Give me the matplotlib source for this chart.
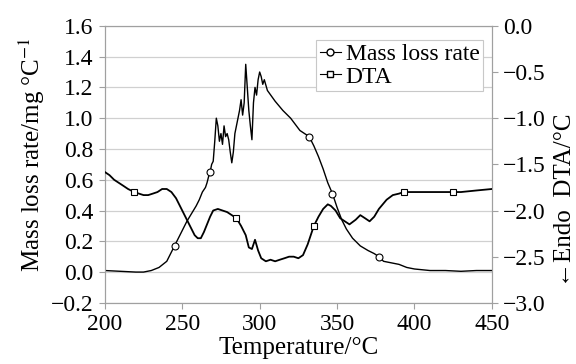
import matplotlib
matplotlib.use("Agg")
import matplotlib.pyplot as plt
import numpy as np
from matplotlib.lines import Line2D

plt.rcParams['font.family'] = ['Liberation Serif', 'DejaVu Serif']
plt.rcParams['mathtext.fontset'] = 'stix'

# mass loss rate (mg/°C) vs temperature
t_mass = [200, 210, 220, 225, 230, 235, 240, 245, 250, 253, 256, 259, 261, 263, 265, 266, 267, 268,
          269, 270, 271, 272, 273, 274, 275, 276, 277, 278, 279, 280, 281, 282, 283, 284, 285, 286,
          287, 288, 289, 290, 291, 292, 293, 294, 295, 296, 297, 298, 299, 300, 301, 302, 303, 305,
          310, 315, 320, 326, 332, 335, 338, 341, 344, 347, 350, 353, 356, 360, 365, 370, 374, 377,
          380, 385, 390, 395, 400, 410, 420, 430, 440, 450]
mass_rate = [0.01, 0.005, 0.0, 0.0, 0.01, 0.03, 0.07, 0.17, 0.27, 0.33, 0.38, 0.43, 0.47, 0.52, 0.55, 0.58, 0.62, 0.65,
             0.70, 0.72, 0.85, 1.00, 0.95, 0.85, 0.90, 0.83, 0.95, 0.88, 0.90, 0.86, 0.78, 0.71, 0.78, 0.90, 0.95, 1.00,
             1.05, 1.12, 1.02, 1.10, 1.35, 1.20, 1.05, 0.95, 0.86, 1.10, 1.20, 1.15, 1.25, 1.30, 1.27, 1.22, 1.25, 1.18,
             1.11, 1.05, 1.00, 0.92, 0.88, 0.82, 0.75, 0.67, 0.58, 0.51, 0.42, 0.34, 0.28, 0.22, 0.17, 0.14, 0.12, 0.10,
             0.07, 0.06, 0.05, 0.03, 0.02, 0.01, 0.01, 0.005, 0.01, 0.01]
mass_marks = [245, 268, 332, 347, 377]

# DTA (°C) vs temperature
t_dta = [200, 203, 206, 209, 212, 215, 219, 222, 225, 228, 231, 234, 237, 240, 243, 246, 249, 252,
         255, 258, 260, 262, 264, 266, 268, 270, 273, 276, 279, 282, 285, 288, 291, 293, 295, 297,
         299, 301, 304, 307, 310, 313, 316, 319, 322, 325, 328, 331, 335, 338, 341, 344, 346, 349,
         352, 355, 358, 362, 365, 368, 371, 374, 377, 382, 386, 390, 393, 400, 410, 420, 425, 430,
         440, 450]
dta = [-1.583, -1.617, -1.667, -1.700, -1.733, -1.767, -1.800, -1.817, -1.833, -1.833, -1.817, -1.800, -1.767, -1.767,
       -1.800, -1.867, -1.967, -2.067, -2.167, -2.267, -2.300, -2.300, -2.233, -2.150, -2.067, -2.000, -1.983, -2.000,
       -2.017, -2.050, -2.083, -2.167, -2.267, -2.400, -2.417, -2.317, -2.433, -2.517, -2.550, -2.533, -2.550, -2.533,
       -2.517, -2.500, -2.500, -2.517, -2.483, -2.367, -2.167, -2.067, -1.983, -1.933, -1.950, -2.000, -2.083, -2.117,
       -2.150, -2.100, -2.050, -2.083, -2.117, -2.067, -1.983, -1.883, -1.833, -1.817, -1.800, -1.800, -1.800, -1.800,
       -1.800, -1.800, -1.783, -1.767]
dta_marks = [219, 285, 335, 393, 425]

grey = '#a0a0a0'
fs = 17

fig, ax = plt.subplots(figsize=(5.76, 3.64), dpi=100)
fig.subplots_adjust(left=0.182, right=0.854, top=0.929, bottom=0.168)
ax2 = ax.twinx()

mi = [t_mass.index(t) for t in mass_marks]
di = [t_dta.index(t) for t in dta_marks]
ax.plot(t_mass, mass_rate, color='black', lw=1.0, marker='o', markevery=mi,
        markersize=5, markerfacecolor='white', markeredgewidth=0.8, zorder=3)
ax2.plot(t_dta, dta, color='black', lw=1.3, marker='s', markevery=di,
         markersize=5, markerfacecolor='white', markeredgewidth=0.8, zorder=3)

ax.set_xlim(200, 450)
ax.set_ylim(-0.2, 1.6)
ax.set_yticks(np.arange(-0.2, 1.61, 0.2))
ax.set_xticks([200, 250, 300, 350, 400, 450])
ax2.set_ylim(-3.0, 0.0)
ax2.set_yticks(np.arange(-3.0, 0.01, 0.5))


def fmt(v, pos):
    return f"{v + 0.0:.1f}".replace('-', '\u2212') if abs(v) > 1e-9 else "0.0"


ax.yaxis.set_major_formatter(matplotlib.ticker.FuncFormatter(fmt))
ax2.yaxis.set_major_formatter(matplotlib.ticker.FuncFormatter(fmt))

ax.grid(axis='y', color='#d0d0d0', lw=0.9)
ax.set_axisbelow(True)
for a in (ax, ax2):
    for s in a.spines.values():
        s.set_color(grey)
    a.tick_params(colors=grey, labelcolor='black', labelsize=fs, length=4, width=0.8, pad=4)

ax.set_xlabel('Temperature/°C', fontsize=fs + 1)
ax.xaxis.set_label_coords(0.5, -0.125)
ax.set_ylabel('Mass loss rate/mg °C$^{-1}$', fontsize=fs + 1)
ax.yaxis.set_label_coords(-0.15, 0.534)
ax2.set_ylabel('←Endo  DTA/°C', fontsize=fs + 1, rotation=90)
ax2.yaxis.set_label_coords(1.16, 0.372)

handles = [Line2D([], [], color='black', lw=0.8, marker='o', markersize=5, markerfacecolor='white'),
           Line2D([], [], color='black', lw=0.8, marker='s', markersize=5, markerfacecolor='white')]
leg = ax.legend(handles, ['Mass loss rate', 'DTA'], loc='upper right', bbox_to_anchor=(0.977, 0.949),
                borderaxespad=0, fontsize=fs, handlelength=0.9, handletextpad=0.2, labelspacing=0.05,
                borderpad=0.15, fancybox=False, framealpha=1)
leg.get_frame().set_edgecolor('#c8c8c8')
leg.get_frame().set_linewidth(0.8)

fig.savefig('out.png', dpi=100)
